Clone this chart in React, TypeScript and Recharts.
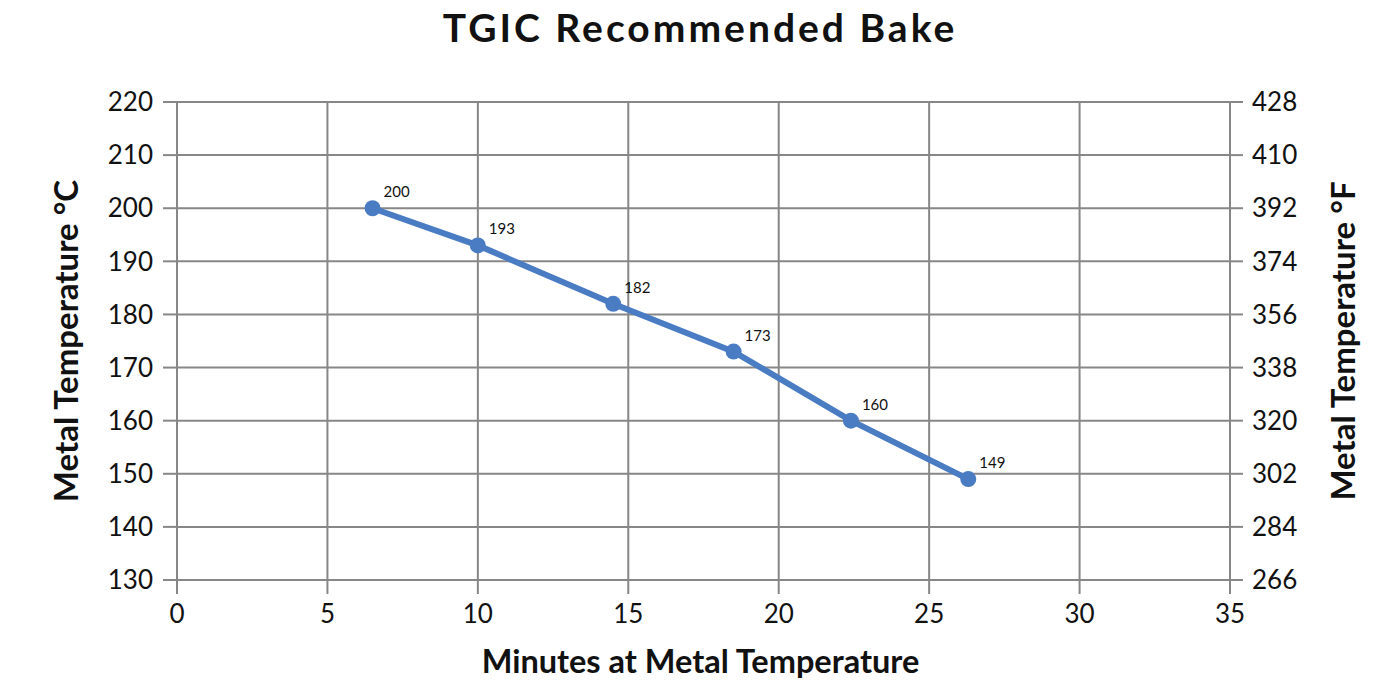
import { LineChart, Line, XAxis, YAxis, CartesianGrid, LabelList, Label } from 'recharts';

// minutes at metal temperature vs. metal temperature (°C)
const minutes = [6.5, 10, 14.5, 18.5, 22.4, 26.3];
const tempsC = [200, 193, 182, 173, 160, 149];

const xTicks = [0, 5, 10, 15, 20, 25, 30, 35];
const cTicks = [130, 140, 150, 160, 170, 180, 190, 200, 210, 220];
const fTicks = [266, 284, 302, 320, 338, 356, 374, 392, 410, 428];

const data = minutes.map((m, i) => ({ minutes: m, temp: tempsC[i] }));

const FONT = 'Lato, "Open Sans", sans-serif';
const GRID = '#878787';
const BLUE = '#4a7cc4';

const tickStyle = { fontSize: 26, fill: '#111', fontFamily: FONT };

// небольшая подпись справа-сверху от точки
const PointLabel = (props: any) => {
  const { x, y, value } = props;
  return (
    <text x={x + 11} y={y - 11} fontSize={15} fill="#111" fontFamily={FONT}>
      {value}
    </text>
  );
};

const SideTitle = ({ viewBox, text, cx }: any) => {
  const cy = viewBox.y + viewBox.height / 2;
  return (
    <text
      x={cx}
      y={cy}
      transform={`rotate(-90 ${cx} ${cy})`}
      textAnchor="middle"
      dominantBaseline="central"
      fontSize={33}
      fontWeight="bold"
      fill="#111"
      fontFamily={FONT}
    >
      {text}
    </text>
  );
};

export default function App() {
  return (
    <div style={{ position: 'absolute', left: 0, top: 0, width: 1400, height: 692, background: '#fff' }}>
      <div
        style={{
          position: 'absolute',
          left: 0,
          top: 4,
          width: 1400,
          textAlign: 'center',
          fontFamily: FONT,
          fontWeight: 'bold',
          fontSize: 39,
          letterSpacing: 3,
          color: '#111',
        }}
      >
        TGIC Recommended Bake
      </div>
      <LineChart width={1400} height={692} data={data} margin={{ top: 102, right: 0, bottom: 0, left: 0 }}>
        <CartesianGrid yAxisId="c" stroke={GRID} strokeWidth={2} />
        <XAxis
          dataKey="minutes"
          type="number"
          domain={[0, 35]}
          ticks={xTicks}
          height={112}
          tickSize={14}
          tickMargin={11}
          tick={tickStyle}
          stroke={GRID}
          strokeWidth={2}
        >
          <Label
            content={(p: any) => (
              <text
                x={p.viewBox.x + p.viewBox.width / 2 - 3}
                y={660}
                textAnchor="middle"
                dominantBaseline="central"
                fontSize={32.5}
                fontWeight="bold"
                fill="#111"
                fontFamily={FONT}
              >
                Minutes at Metal Temperature
              </text>
            )}
          />
        </XAxis>
        <YAxis
          yAxisId="c"
          type="number"
          domain={[130, 220]}
          ticks={cTicks}
          width={177}
          tickSize={14}
          tickMargin={10}
          tick={tickStyle}
          stroke={GRID}
          strokeWidth={2}
        >
          <Label content={(p: any) => <SideTitle viewBox={p.viewBox} text="Metal Temperature °C" cx={65} />} />
        </YAxis>
        <YAxis
          yAxisId="f"
          orientation="right"
          type="number"
          domain={[266, 428]}
          allowDataOverflow
          ticks={fTicks}
          width={170}
          tickSize={13}
          tickMargin={9}
          tick={tickStyle}
          stroke={GRID}
          strokeWidth={2}
        >
          <Label content={(p: any) => <SideTitle viewBox={p.viewBox} text="Metal Temperature °F" cx={1342} />} />
        </YAxis>
        {/* invisible series so the °F axis gets drawn */}
        <Line
          yAxisId="f"
          dataKey="temp"
          stroke="none"
          dot={false}
          activeDot={false}
          legendType="none"
          isAnimationActive={false}
        />
        <Line
          yAxisId="c"
          dataKey="temp"
          stroke={BLUE}
          strokeWidth={6}
          dot={{ r: 8, fill: BLUE, stroke: 'none' }}
          activeDot={false}
          isAnimationActive={false}
        >
          <LabelList dataKey="temp" content={PointLabel} />
        </Line>
      </LineChart>
    </div>
  );
}
